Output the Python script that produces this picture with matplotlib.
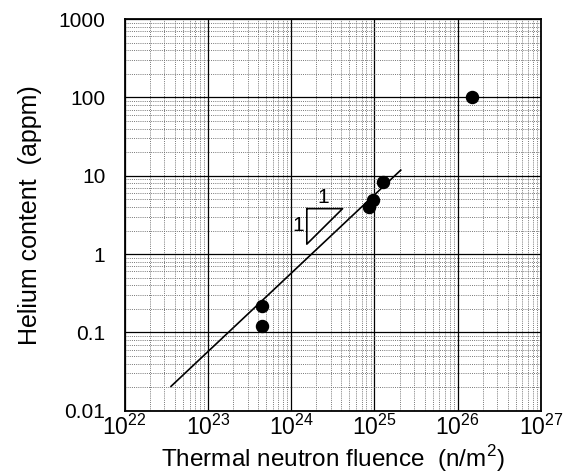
import matplotlib.pyplot as plt
import numpy as np
from matplotlib.ticker import LogLocator, FixedLocator, NullFormatter

plt.rcParams['font.family'] = ['Liberation Sans', 'DejaVu Sans']
plt.rcParams['mathtext.fontset'] = 'custom'
plt.rcParams['mathtext.rm'] = 'Liberation Sans'

# measured points (thermal neutron fluence n/m2, helium appm)
fluence = [4.4e23, 4.4e23, 8.6e24, 9.5e24, 1.25e25, 1.5e26]
helium = [0.22, 0.12, 4.0, 4.9, 8.3, 102]

# slope-1 fit line end points
fit_x = [3.6e22, 2.07e25]
fit_coef = 5.7e-25

# slope triangle
tri_x = [1.54e24, 4.14e24, 1.54e24, 1.54e24]
tri_y = [3.8, 3.8, 1.34, 3.8]

x_ticks = [1e22, 1e23, 1e24, 1e25, 1e26, 1e27]
x_labels = ['$\\mathrm{10^{22}}$', '$\\mathrm{10^{23}}$', '$\\mathrm{10^{24}}$',
            '$\\mathrm{10^{25}}$', '$\\mathrm{10^{26}}$', '$\\mathrm{10^{27}}$']
y_ticks = [0.01, 0.1, 1, 10, 100, 1000]
y_labels = ['0.01', '0.1', '1', '10', '100', '1000']

fig = plt.figure(figsize=(5.67, 4.76), dpi=100)
ax = fig.add_axes([0.220, 0.137, 0.734, 0.823])
ax.set_xscale('log')
ax.set_yscale('log')
ax.set_xlim(1e22, 1e27)
ax.set_ylim(0.01, 1000)

ax.xaxis.set_major_locator(FixedLocator(x_ticks))
ax.yaxis.set_major_locator(FixedLocator(y_ticks))
ax.xaxis.set_minor_locator(LogLocator(base=10, subs=np.arange(2, 10), numticks=20))
ax.yaxis.set_minor_locator(LogLocator(base=10, subs=np.arange(2, 10), numticks=20))
ax.xaxis.set_minor_formatter(NullFormatter())
ax.yaxis.set_minor_formatter(NullFormatter())
ax.set_xticklabels(x_labels, fontsize=16.5)
ax.set_yticklabels(y_labels, fontsize=15)
ax.tick_params(which='both', length=0)
ax.tick_params(axis='y', pad=14)
ax.tick_params(axis='x', pad=3)

ax.grid(which='major', color='black', lw=0.9)
ax.grid(which='minor', color='#777777', lw=0.7, ls=(0, (1, 1.2)))
ax.set_axisbelow(True)
for s in ax.spines.values():
    s.set_linewidth(1.3)

fx = np.array(fit_x)
ax.plot(fx, fit_coef * fx, color='black', lw=1.2)
ax.plot(tri_x, tri_y, color='black', lw=1.2)
ax.text(2.4e24, 4.0, '1', fontsize=15, ha='center', va='bottom')
ax.text(1.42e24, 2.29, '1', fontsize=15, ha='right', va='center')

ax.scatter(fluence, helium, s=75, color='black', zorder=5)

ax.set_xlabel('Thermal neutron fluence  (n/m$^\\mathrm{2}$)', fontsize=17.5)
ax.xaxis.set_label_coords(0.5, -0.083)
ax.set_ylabel('Helium content  (appm)', fontsize=18, labelpad=12)

fig.savefig('out.png', dpi=100)
